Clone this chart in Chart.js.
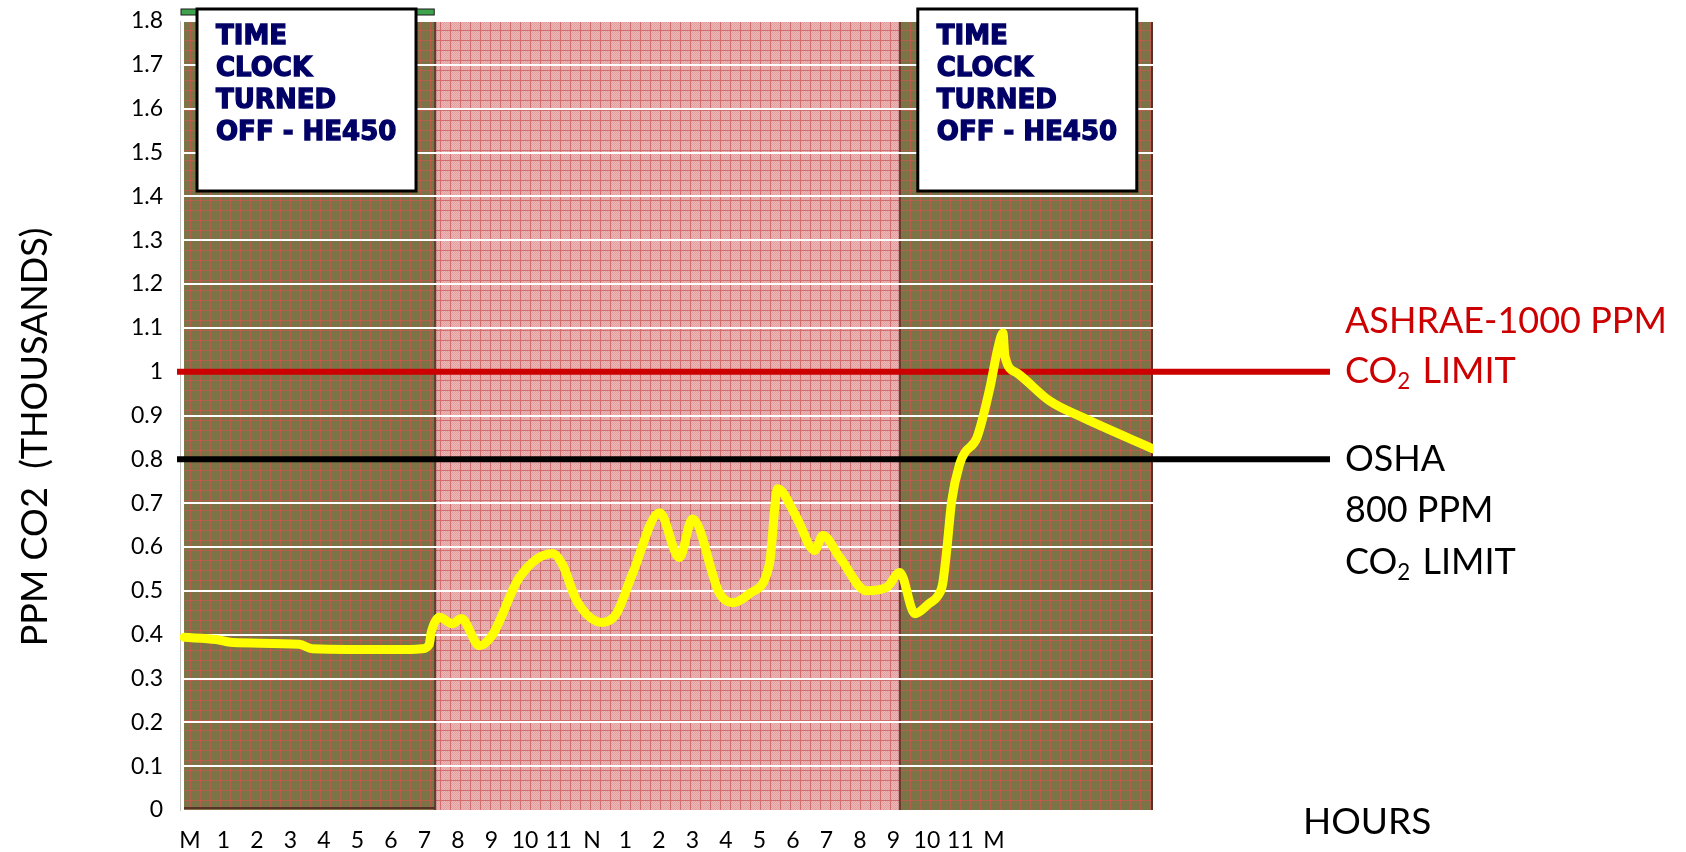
<!DOCTYPE html>
<html>
<head>
<meta charset="utf-8">
<script src="https://cdn.jsdelivr.net/npm/chart.js@4.4.1/dist/chart.umd.min.js"></script>
<style>
  html, body { margin: 0; padding: 0; background: #fff; }
  #wrap { width: 1686px; height: 852px; }
</style>
</head>
<body>
<div id="wrap"><canvas id="co2"></canvas></div>
<script>
// hour tick labels, midnight to midnight
const hourLabels = ['M', '1', '2', '3', '4', '5', '6', '7', '8', '9', '10', '11', 'N',
  '1', '2', '3', '4', '5', '6', '7', '8', '9', '10', '11', 'M'];

// CO2 readings (thousands of ppm) against hour of day
const co2Hours = [-0.18, 0.78, 1.26, 3.26, 3.65, 6.25, 6.93, 7.14, 7.2, 7.44, 7.83, 8.1, 8.64, 9.03,
  9.83, 10.82, 11.12, 11.54, 12.31, 12.73, 13.21, 14.02, 14.61, 15.0, 15.81, 16.2, 16.71, 17.3,
  17.54, 18.11, 18.65, 18.89, 19.4, 20.2, 20.8, 21.19, 21.64, 22.05, 22.33, 22.47, 22.59, 22.74,
  22.98, 23.13, 23.49, 23.88, 24.12, 24.27, 24.33, 24.69, 25.67, 26.66, 28.75];
const co2Values = [0.394, 0.389, 0.382, 0.378, 0.368, 0.366, 0.368, 0.378, 0.405, 0.44, 0.425, 0.437, 0.375, 0.4,
  0.53, 0.585, 0.56, 0.478, 0.428, 0.448, 0.539, 0.678, 0.576, 0.664, 0.494, 0.473, 0.494, 0.562,
  0.733, 0.667, 0.592, 0.626, 0.576, 0.5, 0.508, 0.542, 0.448, 0.47, 0.489, 0.516, 0.592, 0.705,
  0.79, 0.815, 0.849, 0.963, 1.054, 1.088, 1.035, 0.997, 0.933, 0.895, 0.824];

// time clock periods
const bandStarts = [-0.18, 7.32, 21.19];
const bandEnds = [7.32, 21.19, 28.75];
const bandOff = [true, false, true];

// limit lines
const limitValues = [1.0, 0.8];
const limitColors = ['#cc0000', '#000000'];
const limitText = [['ASHRAE-1000 PPM', 'CO|2| LIMIT'], ['OSHA', '800 PPM', 'CO|2| LIMIT']];

const boxLines = ['TIME', 'CLOCK', 'TURNED', 'OFF - HE450'];

const canvas = document.getElementById('co2');
const ctx = canvas.getContext('2d');

function makePattern(base, line, dots) {
  const c = document.createElement('canvas');
  c.width = 10; c.height = 10;
  const g = c.getContext('2d');
  g.fillStyle = base;
  g.fillRect(0, 0, 10, 10);
  if (dots) {
    g.fillStyle = dots;
    for (let y = 0; y < 10; y++)
      for (let x = 0; x < 10; x++)
        if ((x + y) % 2 === 0) g.fillRect(x, y, 1, 1);
  }
  g.fillStyle = line;
  g.fillRect(0, 0, 10, 1);
  g.fillRect(0, 0, 1, 10);
  return ctx.createPattern(c, 'repeat');
}
const olive = makePattern('#7a7447', 'rgba(210,85,80,0.65)', null);
const pink = makePattern('#ecb6b6', '#d26d6d', '#e1a1a1');

// draws "CO|2| LIMIT" style text with a subscript
function subText(g, str, x, y, size) {
  const parts = str.split('|');
  parts.forEach((p, i) => {
    const sub = i % 2 === 1;
    g.font = (sub ? size * 0.62 : size) + 'px Lato';
    g.fillText(p, x, sub ? y + size * 0.28 : y);
    x += g.measureText(p).width + (sub ? 3 : 0);
  });
}

const backdrop = {
  id: 'backdrop',
  beforeDraw(chart) {
    const { ctx: g, chartArea: a, scales: { x } } = chart;
    g.save();
    bandStarts.forEach((s, i) => {
      const x0 = x.getPixelForValue(s), x1 = x.getPixelForValue(bandEnds[i]);
      g.fillStyle = bandOff[i] ? olive : pink;
      g.fillRect(x0, a.top, x1 - x0, a.bottom - a.top);
    });
    // dark edges
    g.strokeStyle = 'rgba(80,40,35,0.85)';
    g.lineWidth = 2;
    g.beginPath();
    const s0 = x.getPixelForValue(bandStarts[0]);
    const e0 = x.getPixelForValue(bandEnds[0]);
    g.moveTo(e0, a.top); g.lineTo(e0, a.bottom);
    g.moveTo(s0, a.bottom - 2); g.lineTo(e0, a.bottom - 2);
    const s2 = x.getPixelForValue(bandStarts[2]);
    g.moveTo(s2, a.top); g.lineTo(s2, a.bottom);
    g.moveTo(a.right - 1, a.top); g.lineTo(a.right - 1, a.bottom);
    g.stroke();
    // green strip above first period
    g.fillStyle = '#3fa34d';
    g.fillRect(s0 - 3, a.top - 12, e0 - s0 + 2, 6);
    g.strokeStyle = '#1a1a1a';
    g.lineWidth = 1;
    g.strokeRect(s0 - 3, a.top - 12, e0 - s0 + 2, 6);
    g.restore();
  },
  beforeDatasetsDraw(chart) {
    const { ctx: g, scales: { y } } = chart;
    g.save();
    g.lineWidth = 6;
    limitValues.forEach((v, i) => {
      const py = y.getPixelForValue(v);
      g.strokeStyle = limitColors[i];
      g.beginPath();
      g.moveTo(177, py);
      g.lineTo(1330, py);
      g.stroke();
    });
    g.restore();
  },
  afterDraw(chart) {
    const { ctx: g, chartArea: a, scales: { x, y } } = chart;
    g.save();
    // text boxes over the off periods
    [x.getPixelForValue(bandStarts[0]) + 13, x.getPixelForValue(bandStarts[2]) + 18].forEach(bx => {
      const by = a.top - 12;
      g.fillStyle = '#ffffff';
      g.fillRect(bx, by, 219, 182);
      g.strokeStyle = '#000000';
      g.lineWidth = 3;
      g.strokeRect(bx, by, 219, 182);
      g.fillStyle = '#000066';
      g.strokeStyle = '#000066';
      g.lineWidth = 1.3;
      g.font = 'bold 26px "DejaVu Sans"';
      g.textBaseline = 'middle';
      boxLines.forEach((t, i) => {
        g.fillText(t, bx + 19, by + 28 + i * 32);
        g.strokeText(t, bx + 19, by + 28 + i * 32);
      });
    });
    // limit labels
    g.textBaseline = 'middle';
    const gaps = [50, 51.5];
    limitValues.forEach((v, i) => {
      const py = y.getPixelForValue(v);
      g.fillStyle = limitColors[i];
      const first = i === 0 ? py - gaps[0] : py;
      limitText[i].forEach((t, j) => subText(g, t, 1345, first + j * gaps[i], 36));
    });
    // axis titles
    g.fillStyle = '#000000';
    g.font = '37px Lato';
    g.fillText('HOURS', 1303, 822);
    g.translate(35, 437);
    g.rotate(-Math.PI / 2);
    g.textAlign = 'center';
    g.font = '36px Lato';
    g.fillText('PPM CO2  (THOUSANDS)', 0, 0);
    g.restore();
  }
};

new Chart(canvas, {
  type: 'line',
  data: {
    datasets: [{
      data: co2Hours.map((h, i) => ({ x: h, y: co2Values[i] })),
      borderColor: '#ffff00',
      borderWidth: 9,
      borderCapStyle: 'round',
      borderJoinStyle: 'round',
      cubicInterpolationMode: 'monotone',
      pointRadius: 0,
      fill: false
    }]
  },
  options: {
    responsive: true,
    maintainAspectRatio: false,
    animation: false,
    events: [],
    layout: { padding: { top: 21, right: 533, bottom: 0, left: 0 } },
    plugins: { legend: { display: false }, tooltip: { enabled: false } },
    scales: {
      x: {
        type: 'linear',
        min: -0.3,
        max: 28.75,
        afterBuildTicks: axis => { axis.ticks = hourLabels.map((_, i) => ({ value: i })); },
        afterFit: axis => { axis.height = 42; },
        grid: { display: false, drawTicks: false },
        border: { display: false },
        ticks: {
          autoSkip: false,
          maxRotation: 0,
          padding: 17,
          color: '#000',
          font: { family: 'Lato', size: 23 },
          callback: v => hourLabels[v]
        }
      },
      y: {
        min: 0,
        max: 1.8,
        afterFit: axis => { axis.width = 180; axis.paddingTop = 0; axis.paddingBottom = 0; },
        grid: {
          color: ctx => ctx.tick && ctx.tick.value === 0 ? 'rgba(0,0,0,0)' : '#ffffff',
          lineWidth: 2,
          drawTicks: false
        },
        border: { color: '#c4c4c4', width: 1 },
        ticks: {
          stepSize: 0.1,
          padding: 17,
          color: '#000',
          font: { family: 'Lato', size: 23 },
          callback: v => String(Number(v.toFixed(1)))
        }
      }
    }
  },
  plugins: [backdrop]
});
</script>
</body>
</html>
